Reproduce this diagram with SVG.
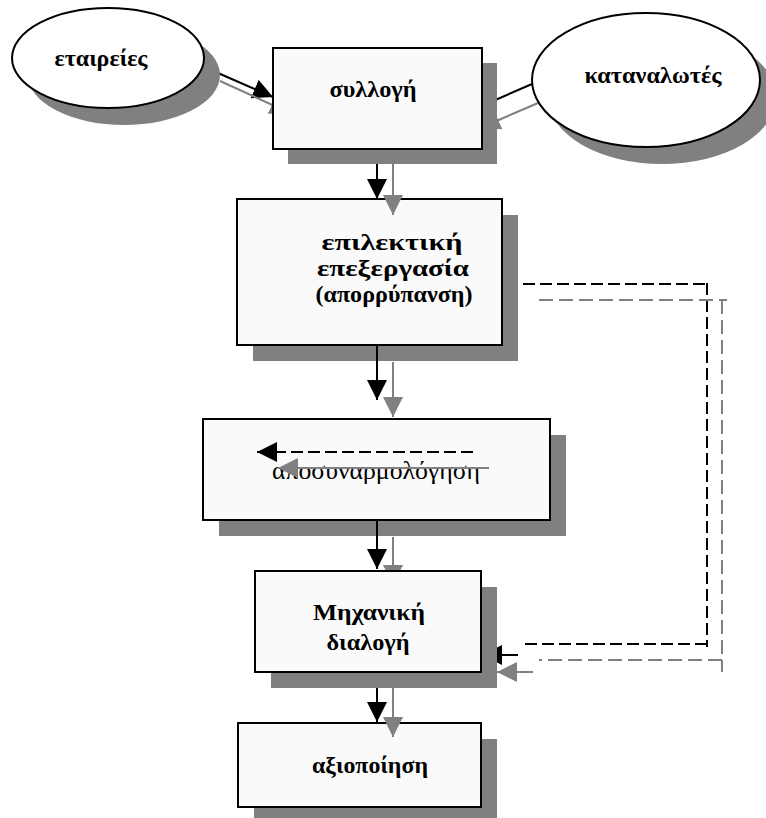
<svg xmlns="http://www.w3.org/2000/svg" width="766" height="818" viewBox="0 0 766 818">
<defs>
<style>
.sh{fill:#808080;stroke:none}
.bx{fill:#fafafa;stroke:#000;stroke-width:2}
.el{fill:#fff;stroke:#000;stroke-width:2}
.t{font-family:"Liberation Serif","DejaVu Serif",serif;font-size:23px;font-weight:bold;text-anchor:middle;fill:#000}
.tr{font-family:"Liberation Serif","DejaVu Serif",serif;font-size:25px;text-anchor:middle;fill:#000}
.cb{stroke:#000;stroke-width:2;fill:none}
.cg{stroke:#808080;stroke-width:2;fill:none}
.db{stroke-dasharray:12 5}
.dg{stroke-dasharray:14 6}
</style>
<marker id="ab" viewBox="0 0 20 20" refX="20" refY="10" markerWidth="20" markerHeight="20" markerUnits="userSpaceOnUse" orient="auto"><path d="M0,0 L20,10 L0,20 Z" fill="#000"/></marker>
<marker id="ag" viewBox="0 0 20 20" refX="20" refY="10" markerWidth="20" markerHeight="20" markerUnits="userSpaceOnUse" orient="auto"><path d="M0,0 L20,10 L0,20 Z" fill="#808080"/></marker>
</defs>

<g id="n_epilektiki">
<rect class="sh" x="253" y="215" width="265" height="146"/>
<rect class="bx" x="237" y="199" width="265" height="146"/>
<text class="t" x="392" y="250" textLength="141" lengthAdjust="spacingAndGlyphs">επιλεκτική</text>
<text class="t" x="393" y="276" textLength="152" lengthAdjust="spacingAndGlyphs">επεξεργασία</text>
<text class="t" x="394" y="302" textLength="157" lengthAdjust="spacingAndGlyphs">(απορρύπανση)</text>
</g>

<g id="n_aposynarmologisi">
<rect class="sh" x="219" y="435" width="347" height="101"/>
<rect class="bx" x="203" y="419" width="347" height="101"/>
<text class="tr" x="376" y="479" textLength="208" lengthAdjust="spacingAndGlyphs">αποσυναρμολόγηση</text>
</g>

<g id="n_axiopoiisi">
<rect class="sh" x="254" y="739" width="243" height="84"/>
<rect class="bx" x="238" y="723" width="243" height="84"/>
<text class="t" x="370" y="773" textLength="116" lengthAdjust="spacingAndGlyphs">αξιοποίηση</text>
</g>

<g id="connectors">
<line class="cb" x1="218" y1="73" x2="273" y2="97" marker-end="url(#ab)"/>
<line class="cg" x1="220" y1="81" x2="290" y2="113" marker-end="url(#ag)"/>
<line class="cb" x1="532" y1="84" x2="470" y2="111" marker-end="url(#ab)"/>
<line class="cg" x1="538" y1="103" x2="480" y2="128" marker-end="url(#ag)"/>

<line class="cb" x1="377" y1="150" x2="377" y2="199" marker-end="url(#ab)"/>
<line class="cg" x1="393" y1="150" x2="393" y2="215" marker-end="url(#ag)"/>
<line class="cb" x1="377" y1="345" x2="377" y2="400" marker-end="url(#ab)"/>
<line class="cg" x1="393" y1="362" x2="393" y2="417" marker-end="url(#ag)"/>
<line class="cb" x1="377" y1="520" x2="377" y2="569" marker-end="url(#ab)"/>
<line class="cg" x1="393" y1="537" x2="393" y2="585" marker-end="url(#ag)"/>
<line class="cb" x1="377" y1="680" x2="377" y2="722" marker-end="url(#ab)"/>
<line class="cg" x1="393" y1="680" x2="393" y2="737" marker-end="url(#ag)"/>

<polyline class="cb db" points="523,284 707,284"/>
<polyline class="cb db" points="707,283 707,647"/>
<polyline class="cb db" points="707,644 523,644"/>
<line class="cb" x1="518" y1="655" x2="482" y2="655" marker-end="url(#ab)"/>
<polyline class="cg dg" points="539,300 727,300"/>
<polyline class="cg dg" points="722,300 722,672"/>
<polyline class="cg dg" points="722,660 539,660"/>
<line class="cg" x1="533" y1="672" x2="497" y2="672" marker-end="url(#ag)"/>

<line class="cb db" x1="473" y1="452" x2="257" y2="452" marker-end="url(#ab)"/>
<line class="cg" x1="489" y1="468" x2="278" y2="468" marker-end="url(#ag)"/>
</g>

<g id="n_etaireies">
<ellipse class="sh" cx="124" cy="75" rx="96" ry="50"/>
<ellipse class="el" cx="108" cy="58" rx="96" ry="50"/>
<text class="t" x="101" y="66" textLength="93" lengthAdjust="spacingAndGlyphs">εταιρείες</text>
</g>

<g id="n_katanalotes">
<ellipse class="sh" cx="662" cy="97" rx="114" ry="67"/>
<ellipse class="el" cx="646" cy="80" rx="114" ry="67"/>
<text class="t" x="653" y="83" textLength="137" lengthAdjust="spacingAndGlyphs">καταναλωτές</text>
</g>

<g id="n_syllogi">
<rect class="sh" x="288" y="63" width="209" height="101"/>
<rect class="bx" x="273" y="48" width="209" height="101"/>
<text class="t" x="373" y="97" textLength="87" lengthAdjust="spacingAndGlyphs">συλλογή</text>
</g>

<g id="n_michaniki">
<rect class="sh" x="271" y="587" width="226" height="101"/>
<rect class="bx" x="255" y="571" width="226" height="101"/>
<text class="t" x="369" y="620" textLength="112" lengthAdjust="spacingAndGlyphs">Μηχανική</text>
<text class="t" x="368" y="650" textLength="83" lengthAdjust="spacingAndGlyphs">διαλογή</text>
</g>
</svg>
